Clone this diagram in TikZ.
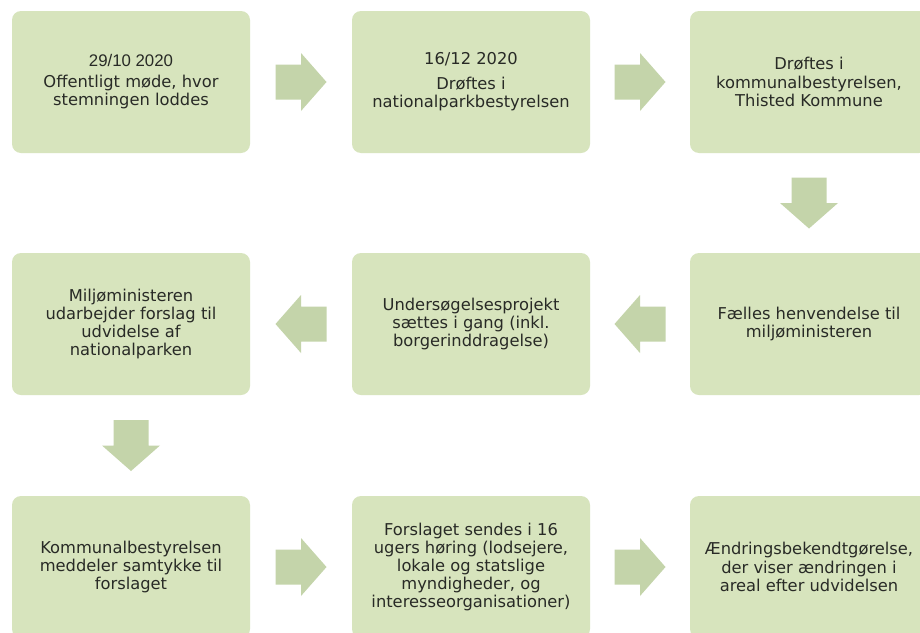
\documentclass[tikz,border=0pt]{standalone}
\usepackage{fontspec}
\setmainfont{DejaVu Sans}
\newfontfamily\arialfont{Liberation Sans}
\definecolor{boxfill}{HTML}{D7E4BD}
\definecolor{arrfill}{HTML}{C4D4AA}
\definecolor{txt}{HTML}{282A26}
\begin{document}
\begin{tikzpicture}[x=1pt,y=-1pt,
  stepbox/.style={fill=boxfill, rounded corners=9pt, minimum width=238pt, minimum height=142pt,
    inner sep=0pt, align=center, text=txt, font=\fontsize{16.3}{18.2}\selectfont},
  blockarr/.pic={\fill[arrfill] (-25.5,-17.5) -- (0,-17.5) -- (0,-29) -- (25.5,0) -- (0,29) -- (0,17.5) -- (-25.5,17.5) -- cycle;}
  ]
\clip (0,0) rectangle (920,632);
\fill[white] (0,0) rectangle (920,632);
% row 1
\node[stepbox] (n1) at (131,82) {\arialfont\fontsize{16.8}{19.5}\selectfont 29/10 2020\\[2.5pt] Offentligt møde, hvor\\ stemningen loddes};
\node[stepbox] (n2) at (471,82) {16/12 2020\\[6.5pt] Drøftes i\\ nationalparkbestyrelsen};
\node[stepbox] (n3) at (809,82) {Drøftes i\\ kommunalbestyrelsen,\\ Thisted Kommune};
% row 2
\node[stepbox] (n4) at (131,324) {Miljøministeren\\ udarbejder forslag til\\ udvidelse af\\ nationalparken};
\node[stepbox] (n5) at (471,324) {Undersøgelsesprojekt\\ sættes i gang (inkl.\\ borgerinddragelse)};
\node[stepbox] (n6) at (809,324) {Fælles henvendelse til\\ miljøministeren};
% row 3
\node[stepbox] (n7) at (131,567) {Kommunalbestyrelsen\\ meddeler samtykke til\\ forslaget};
\node[stepbox] (n8) at (471,567) {Forslaget sendes i 16\\ ugers høring (lodsejere,\\ lokale og statslige\\ myndigheder, og\\ interesseorganisationer)};
\node[stepbox] (n9) at (809,567) {Ændringsbekendtgørelse,\\ der viser ændringen i\\ areal efter udvidelsen};
% connector positions
\path (n1.east) -- (n2.west) coordinate[midway] (a12);
\path (n2.east) -- (n3.west) coordinate[midway] (a23);
\path (n3.south) -- (n6.north) coordinate[midway] (a36);
\path (n6.west) -- (n5.east) coordinate[midway] (a65);
\path (n5.west) -- (n4.east) coordinate[midway] (a54);
\path (n4.south) -- (n7.north) coordinate[midway] (a47);
\path (n7.east) -- (n8.west) coordinate[midway] (a78);
\path (n8.east) -- (n9.west) coordinate[midway] (a89);
\pic at (a12) {blockarr};
\pic at (a23) {blockarr};
\pic[rotate=-90] at (a36) {blockarr};
\pic[rotate=180] at (a65) {blockarr};
\pic[rotate=180] at (a54) {blockarr};
\pic[rotate=-90] at (a47) {blockarr};
\pic at (a78) {blockarr};
\pic at (a89) {blockarr};
\end{tikzpicture}
\end{document}
